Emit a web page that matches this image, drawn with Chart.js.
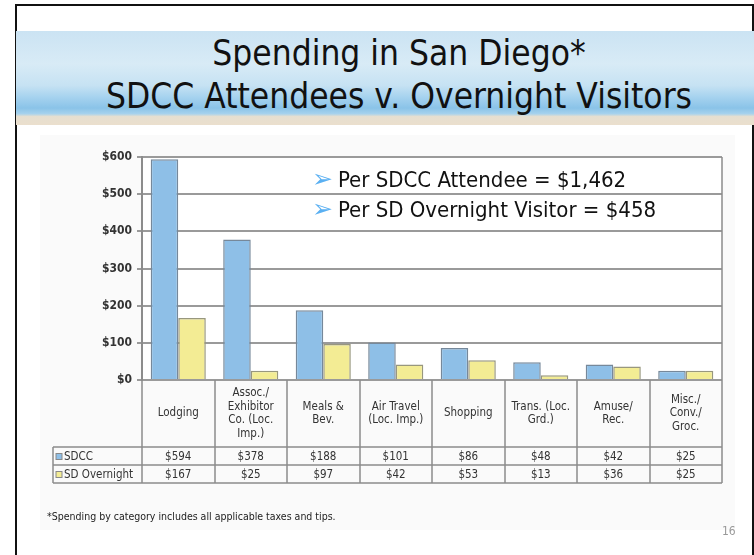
<!DOCTYPE html>
<html>
<head>
<meta charset="utf-8">
<script src="https://cdn.jsdelivr.net/npm/chart.js@4/dist/chart.umd.min.js"></script>
<style>
  body { margin: 0; width: 754px; height: 555px; overflow: hidden; background: #fff; position: relative; font-family: "DejaVu Sans Condensed", "DejaVu Sans", sans-serif; }
  #frame { position: absolute; left: 15px; top: 4px; width: 735px; height: 600px; border: 2px solid #111; }
  #banner { position: absolute; left: 16px; top: 31px; width: 738px; height: 94px;
    background: linear-gradient(180deg, #cbe3f3 0%, #d8ebf6 35%, #c6e2f3 58%, #a7d3ef 70%, #8ac3e8 82%, #a6d2ed 88%, #e6dfd0 91%, #ebdfcd 100%); }
  #title { position: absolute; left: 30px; width: 738px; top: 32px; text-align: center; font-size: 35px; line-height: 43px; color: #111; }
  #panel { position: absolute; left: 40px; top: 135px; width: 695px; height: 395px; background: #fafafa; }
  canvas { position: absolute; left: 0; top: 0; }
  .note { position: absolute; font-size: 22px; color: #111; white-space: nowrap; }
  .note span { color: #5ab0f2; font-family: "DejaVu Sans", sans-serif; font-size: 25px; line-height: 22px; margin-right: 5px; position: relative; top: 0px; }
  #foot { position: absolute; left: 47px; top: 510px; font-size: 10.5px; color: #222; }
  #page { position: absolute; left: 722px; top: 524px; font-size: 12px; color: #999; }
</style>
</head>
<body>
<div id="frame"></div>
<div id="banner"></div>
<div id="title">Spending in San Diego*<br>SDCC Attendees v. Overnight Visitors</div>
<div id="panel"></div>
<canvas id="myChart" width="754" height="555"></canvas>
<div class="note" style="left:312px; top:167px;"><span>➢</span>Per SDCC Attendee = $1,462</div>
<div class="note" style="left:312px; top:197px;"><span>➢</span>Per SD Overnight Visitor = $458</div>
<div id="foot">*Spending by category includes all applicable taxes and tips.</div>
<div id="page">16</div>
<script>
var categories = [
  ["Lodging"],
  ["Assoc./", "Exhibitor", "Co. (Loc.", "Imp.)"],
  ["Meals &", "Bev."],
  ["Air Travel", "(Loc. Imp.)"],
  ["Shopping"],
  ["Trans. (Loc.", "Grd.)"],
  ["Amuse/", "Rec."],
  ["Misc./", "Conv./", "Groc."]
];
var sdcc = [594, 378, 188, 101, 86, 48, 42, 25];
var overnight = [167, 25, 97, 42, 53, 13, 36, 25];
var seriesNames = ["SDCC", "SD Overnight"];
var yTicks = [0, 100, 200, 300, 400, 500, 600];

var blue = '#8ebfe7', yellow = '#f3ec94';
var lineCol = '#8c8c8c';
var smallFont = '11.5px "DejaVu Sans Condensed", "DejaVu Sans", sans-serif';

// data table under the plot, columns follow the x scale
var tablePlugin = {
  id: 'table',
  beforeDraw: function(chart) {
    var a = chart.chartArea, c = chart.ctx;
    c.save();
    c.fillStyle = '#fff';
    c.fillRect(a.left, a.top, a.right - a.left, a.bottom - a.top);
    c.restore();
  },
  afterDraw: function(chart) {
    var c = chart.ctx, a = chart.chartArea, x = chart.scales.x;
    var step = x.getPixelForValue(1) - x.getPixelForValue(0);
    var catBottom = 447, row1 = 465, row2 = 483, tableLeft = 53;
    c.save();
    c.strokeStyle = lineCol;
    c.lineWidth = 1.5;
    c.beginPath();
    for (var i = 0; i <= categories.length; i++) {
      var bx = Math.round(x.getPixelForValue(i) - step / 2);
      c.moveTo(bx, a.bottom); c.lineTo(bx, row2);
    }
    c.moveTo(a.right, a.top); c.lineTo(a.right, row2);
    c.moveTo(tableLeft, catBottom); c.lineTo(tableLeft, row2);
    [catBottom, row1, row2].forEach(function(yy) {
      c.moveTo(tableLeft, yy); c.lineTo(a.right, yy);
    });
    c.stroke();

    c.fillStyle = '#333';
    c.font = smallFont;
    c.textAlign = 'center';
    c.textBaseline = 'middle';
    categories.forEach(function(lines, i) {
      var cx = x.getPixelForValue(i);
      var mid = (a.bottom + catBottom) / 2;
      var lh = 13.5;
      lines.forEach(function(t, k) {
        c.fillText(t, cx, mid + (k - (lines.length - 1) / 2) * lh);
      });
      c.fillText('$' + sdcc[i], cx, (catBottom + row1) / 2 + 1);
      c.fillText('$' + overnight[i], cx, (row1 + row2) / 2 + 1);
    });

    [[seriesNames[0], blue, (catBottom + row1) / 2], [seriesNames[1], yellow, (row1 + row2) / 2]].forEach(function(r) {
      c.fillStyle = r[1];
      c.fillRect(tableLeft + 3, r[2] - 2.5, 6, 6);
      c.strokeStyle = '#888';
      c.lineWidth = 1;
      c.strokeRect(tableLeft + 3, r[2] - 2.5, 6, 6);
      c.fillStyle = '#333';
      c.textAlign = 'left';
      c.fillText(r[0], tableLeft + 11, r[2] + 1);
    });
    c.restore();
  }
};

var ctx = document.getElementById("myChart");
var myChart = new Chart(ctx, {
  type: 'bar',
  data: {
    labels: categories,
    datasets: [{
      label: seriesNames[0],
      data: sdcc,
      backgroundColor: blue,
      borderColor: '#76889a',
      borderWidth: 1.5
    }, {
      label: seriesNames[1],
      data: overnight,
      backgroundColor: yellow,
      borderColor: '#98977e',
      borderWidth: 1.5
    }]
  },
  options: {
    responsive: false,
    animation: false,
    devicePixelRatio: 1,
    layout: { padding: { left: 0, top: 157, right: 32, bottom: 175 } },
    datasets: { bar: { categoryPercentage: 0.76, barPercentage: 1.0 } },
    plugins: {
      legend: { display: false },
      tooltip: { enabled: false }
    },
    scales: {
      x: {
        ticks: { display: false },
        grid: { display: false },
        border: { display: false },
        afterFit: function(s) { s.height = 0; }
      },
      y: {
        min: yTicks[0],
        max: yTicks[yTicks.length - 1],
        afterBuildTicks: function(s) { s.ticks = yTicks.map(function(v) { return { value: v }; }); },
        ticks: {
          callback: function(v) { return '$' + v; },
          font: { family: '"DejaVu Sans Condensed", "DejaVu Sans", sans-serif', size: 12, weight: 'bold' },
          color: '#333',
          padding: 5
        },
        grid: { color: '#9a9a9a', lineWidth: 2, tickLength: 5, tickColor: '#9a9a9a' },
        border: { color: '#8c8c8c', width: 2 },
        afterFit: function(s) { s.width = 142; }
      }
    }
  },
  plugins: [tablePlugin]
});
</script>
</body>
</html>
